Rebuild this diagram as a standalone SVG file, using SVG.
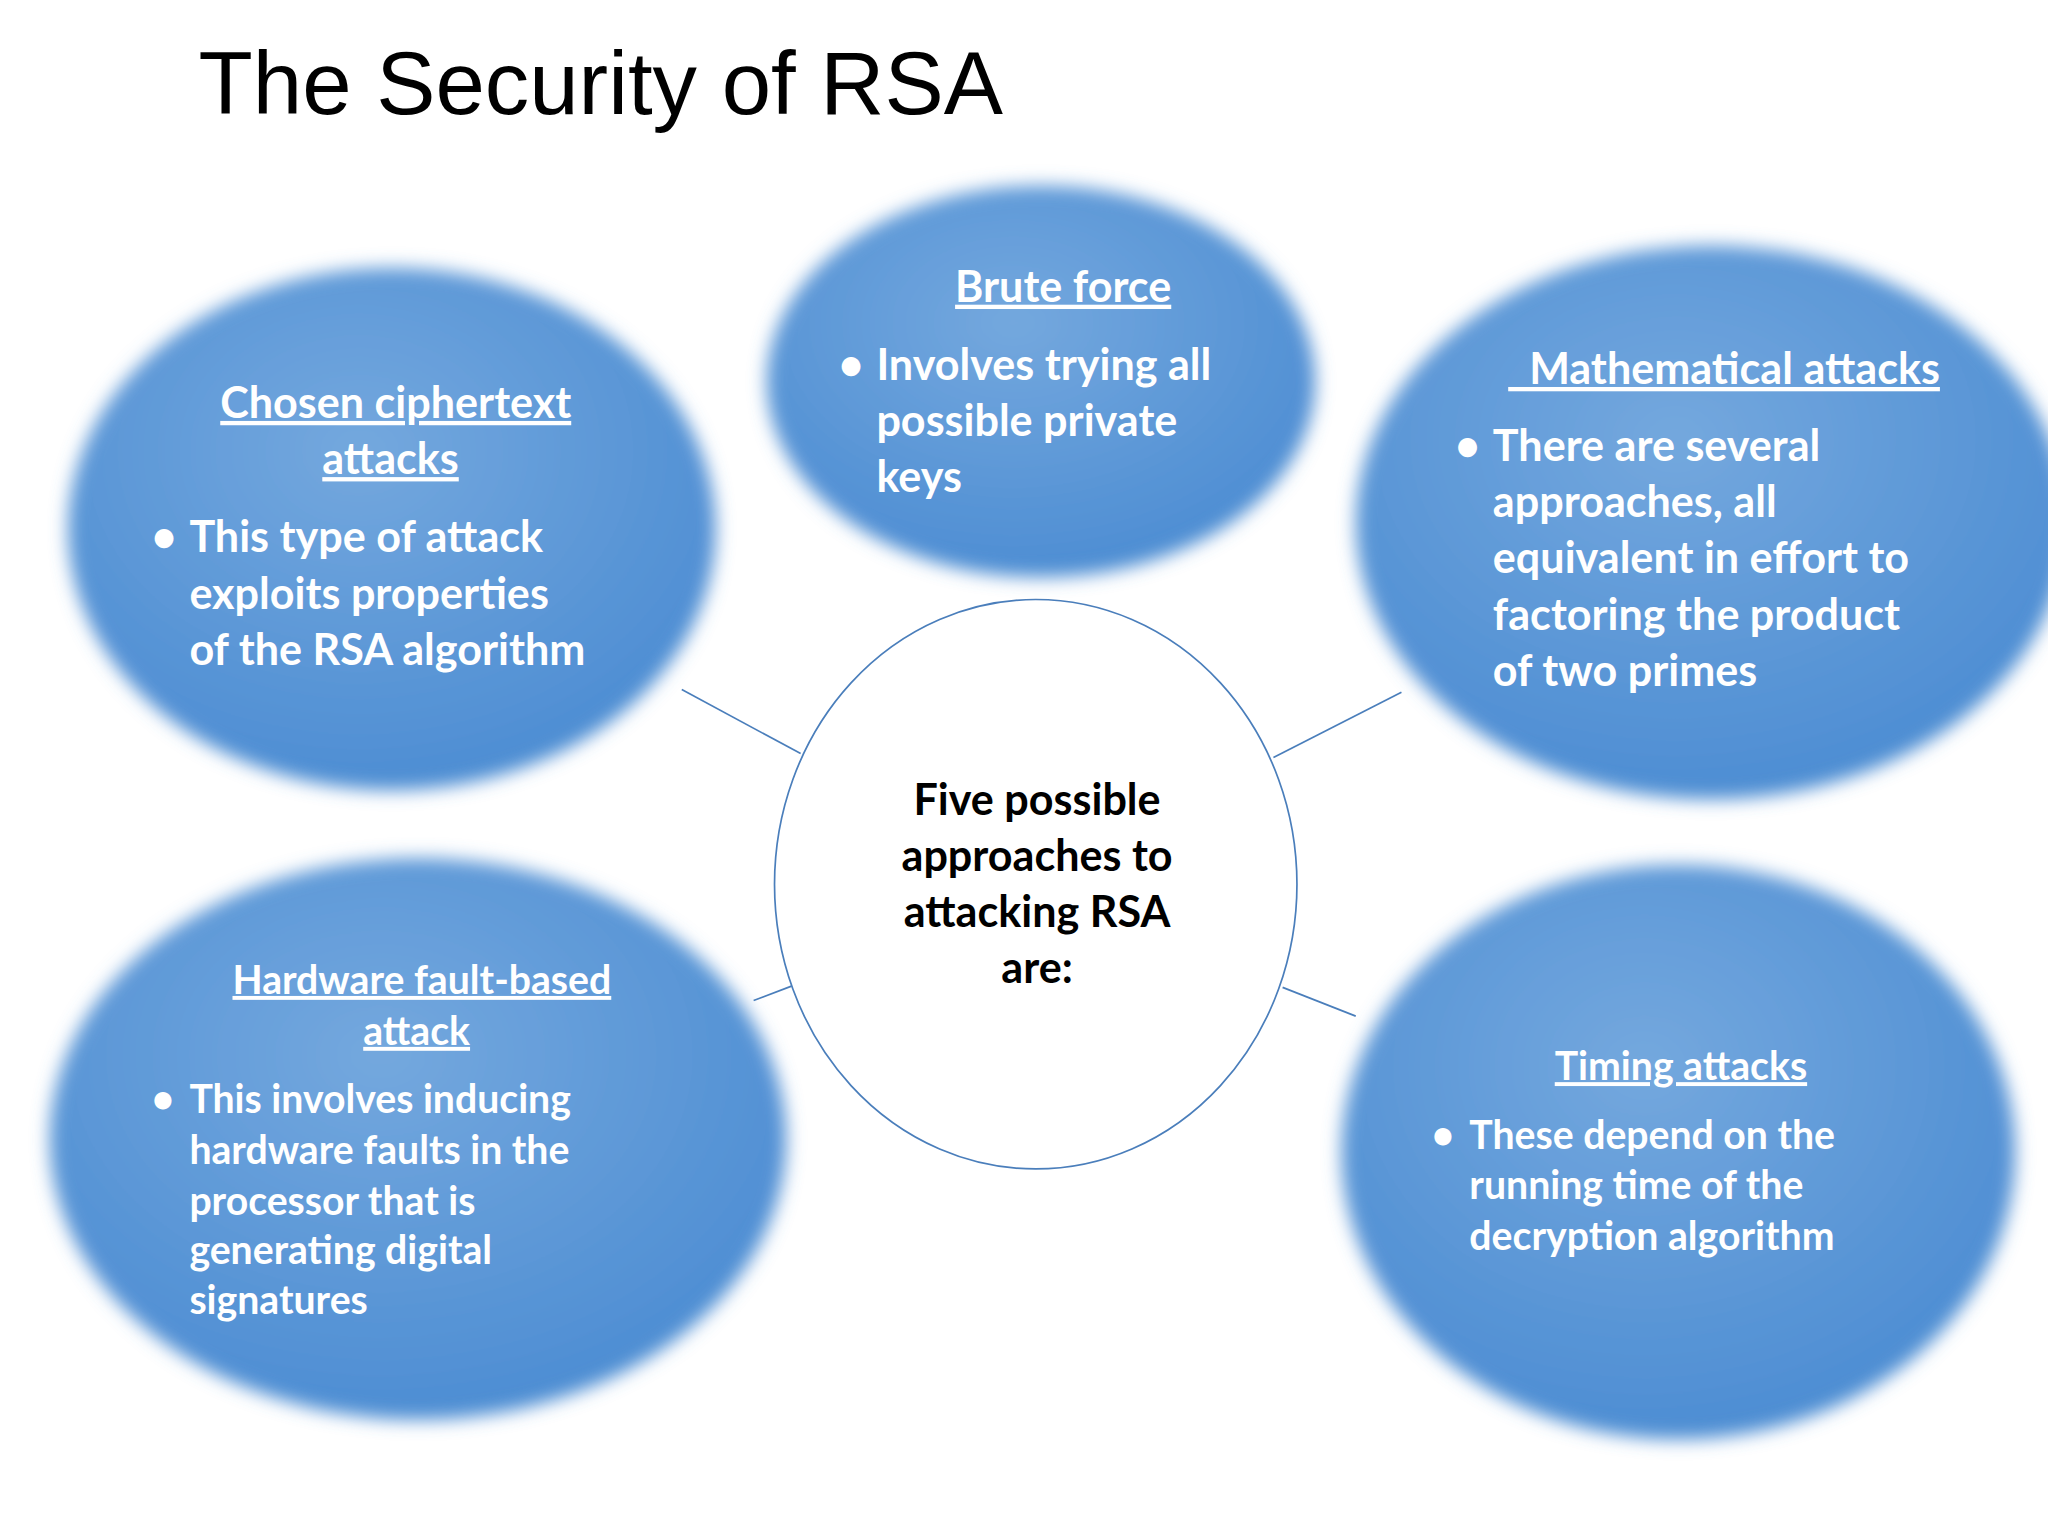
<svg xmlns="http://www.w3.org/2000/svg" width="2048" height="1536" viewBox="0 0 2048 1536">
<defs>
<radialGradient id="g" cx="0.45" cy="0.35" r="0.7">
<stop offset="0" stop-color="#74a8de"/><stop offset="1" stop-color="#4a8bd2"/>
</radialGradient>
<filter id="b" x="-20%" y="-20%" width="140%" height="140%"><feGaussianBlur stdDeviation="7"/></filter>
<style>
.e{fill:url(#g);filter:url(#b)}
.t{font-family:Lato,"Open Sans",sans-serif;font-weight:bold;fill:#fff;font-size:33px}
.s{font-size:30px}
.u{text-decoration:underline}
.c{stroke:#4a7ebb;stroke-width:1.3;fill:none}
</style>
</defs>
<rect width="2048" height="1536" fill="#fff"/>
<g transform="scale(1.3061)">
<text x="152" y="87" font-family="Liberation Sans,Arial,sans-serif" font-size="68">The Security of RSA</text>
<g id="connectors">
<line class="c" x1="522" y1="528" x2="613" y2="577"/>
<line class="c" x1="975" y1="580" x2="1073" y2="530"/>
<line class="c" x1="982" y1="756" x2="1038" y2="778"/>
<line class="c" x1="577" y1="766" x2="606" y2="755"/>
</g>
<g id="chosen"><ellipse class="e" cx="300" cy="405" rx="248" ry="200"/>
<text class="t u" x="303" y="320" text-anchor="middle">Chosen ciphertext</text>
<text class="t u" x="299" y="363" text-anchor="middle">attacks</text>
<text class="t" x="116" y="423">•</text>
<text class="t" x="145" y="423">This type of attack</text>
<text class="t" x="145" y="466">exploits properties</text>
<text class="t" x="145" y="509">of the RSA algorithm</text></g>
<g id="brute"><ellipse class="e" cx="797" cy="292" rx="210" ry="150"/>
<text class="t u" x="814" y="231" text-anchor="middle">Brute force</text>
<text class="t" x="642" y="291">•</text>
<text class="t" x="671" y="291">Involves trying all</text>
<text class="t" x="671" y="334">possible private</text>
<text class="t" x="671" y="377">keys</text></g>
<g id="math"><ellipse class="e" cx="1310" cy="400" rx="272" ry="212"/>
<text class="t u" x="1320" y="294" text-anchor="middle" xml:space="preserve">  Mathematical attacks</text>
<text class="t" x="1114" y="353">•</text>
<text class="t" x="1143" y="353">There are several</text>
<text class="t" x="1143" y="396">approaches, all</text>
<text class="t" x="1143" y="439">equivalent in effort to</text>
<text class="t" x="1143" y="482">factoring the product</text>
<text class="t" x="1143" y="525">of two primes</text></g>
<g id="hardware"><ellipse class="e" cx="320" cy="872" rx="282" ry="215"/>
<text class="t s u" x="323" y="761" text-anchor="middle">Hardware fault-based</text>
<text class="t s u" x="319" y="800" text-anchor="middle">attack</text>
<text class="t s" x="116" y="852">•</text>
<text class="t s" x="145" y="852">This involves inducing</text>
<text class="t s" x="145" y="891">hardware faults in the</text>
<text class="t s" x="145" y="930">processor that is</text>
<text class="t s" x="145" y="968">generating digital</text>
<text class="t s" x="145" y="1006">signatures</text></g>
<g id="timing"><ellipse class="e" cx="1285" cy="882" rx="258" ry="220"/>
<text class="t s u" x="1287" y="827" text-anchor="middle">Timing attacks</text>
<text class="t s" x="1096" y="880">•</text>
<text class="t s" x="1125" y="880">These depend on the</text>
<text class="t s" x="1125" y="918">running time of the</text>
<text class="t s" x="1125" y="957">decryption algorithm</text></g>
<g id="center"><ellipse cx="793" cy="677" rx="200" ry="218" fill="#fff" stroke="#4a7ebb" stroke-width="1.3"/>
<g class="t" style="fill:#000" text-anchor="middle">
<text x="794" y="624">Five possible</text>
<text x="794" y="667">approaches to</text>
<text x="794" y="710">attacking RSA</text>
<text x="794" y="753">are:</text></g></g>
</g>
</svg>
